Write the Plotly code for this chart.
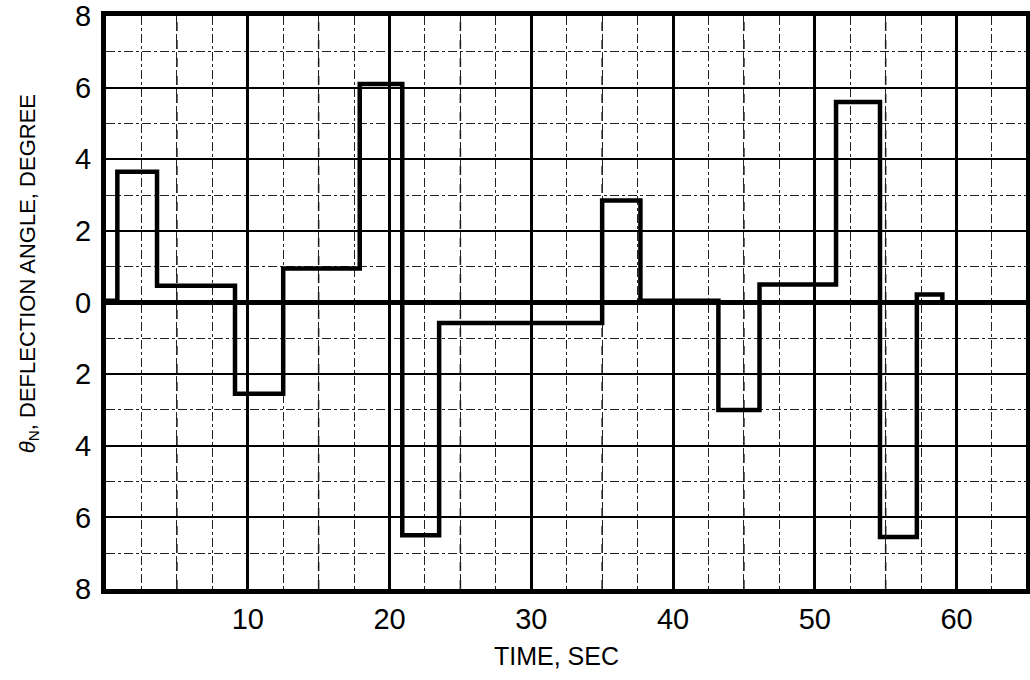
import plotly.graph_objects as go

# Step breakpoints (time, s) and deflection levels (deg)
time_s = [0.0, 0.8, 3.6, 9.1, 12.5, 17.9, 20.9, 23.5, 35.0, 37.7, 43.2, 46.1, 51.5, 54.6, 57.2, 59.0, 65.0]
theta_deg = [0.05, 3.65, 0.47, -2.55, 0.95, 6.1, -6.5, -0.57, 2.85, 0.05, -3.0, 0.5, 5.6, -6.55, 0.22, 0.0, 0.0]

x_ticks = [10, 20, 30, 40, 50, 60]
y_ticks = [-8, -6, -4, -2, 0, 2, 4, 6, 8]
y_ticktext = ["8", "6", "4", "2", "0", "2", "4", "6", "8"]
x_mid_lines = [5, 15, 25, 35, 45, 55]

fig = go.Figure()
fig.add_trace(go.Scatter(
    x=time_s, y=theta_deg, mode="lines",
    line=dict(color="black", width=4.5, shape="hv"),
    showlegend=False, hoverinfo="skip",
))

for xv in x_mid_lines:
    fig.add_shape(type="line", xref="x", yref="paper", x0=xv, x1=xv, y0=0, y1=1,
                  line=dict(color="#111", width=1.5, dash="dash"), layer="between")

tickfont = dict(family="Liberation Sans, Arial, sans-serif", size=29, color="black")

fig.update_xaxes(
    range=[0, 64.9], tickvals=x_ticks, ticktext=[str(v) for v in x_ticks],
    showgrid=True, gridcolor="black", gridwidth=2.5,
    minor=dict(dtick=2.5, tick0=0, showgrid=True, gridcolor="#222", gridwidth=1, griddash="dashdot"),
    showline=True, linecolor="black", linewidth=5, mirror=True,
    ticks="", tickfont=tickfont, ticklabelstandoff=0, zeroline=False, automargin=False,
)
fig.update_yaxes(
    range=[-8.001, 8.001], tickvals=y_ticks, ticktext=y_ticktext,
    showgrid=True, gridcolor="black", gridwidth=2,
    minor=dict(dtick=1, tick0=0, showgrid=True, gridcolor="#222", gridwidth=1.2, griddash="dashdot"),
    zeroline=True, zerolinecolor="black", zerolinewidth=4.5,
    showline=True, linecolor="black", linewidth=5, mirror=True,
    ticks="", tickfont=tickfont, ticklabelstandoff=4, ticklabeloverflow="allow", automargin=False,
)

fig.add_annotation(
    text="<i>θ</i><sub>N</sub>, DEFLECTION ANGLE, DEGREE",
    xref="paper", yref="paper", x=-0.0837, y=0.551, xanchor="center", yanchor="middle",
    textangle=-90, showarrow=False,
    font=dict(family="Liberation Sans, Arial, sans-serif", size=22, color="black"),
)
fig.add_annotation(
    text="TIME, SEC",
    xref="paper", yref="paper", x=0.490, y=-0.1165, xanchor="center", yanchor="middle",
    showarrow=False,
    font=dict(family="Liberation Sans, Arial, sans-serif", size=25, color="black"),
)

fig.update_layout(
    width=1030, height=680,
    margin=dict(l=106, r=4, t=16, b=91),
    paper_bgcolor="white", plot_bgcolor="white",
)

fig.write_html("out.html")
